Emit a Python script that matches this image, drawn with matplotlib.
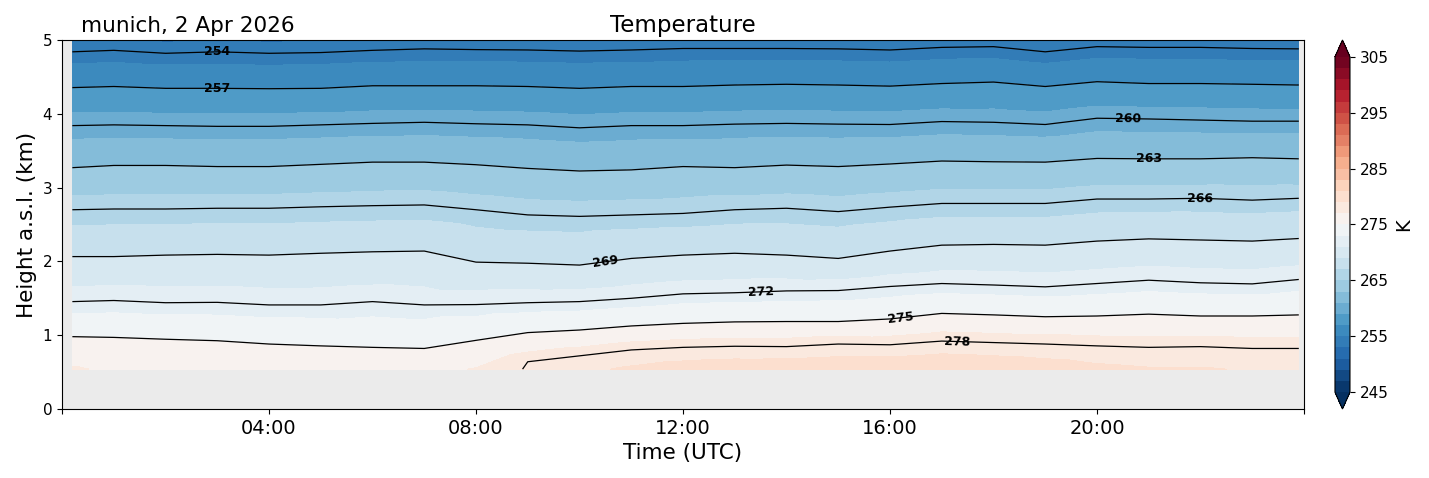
import numpy as np
import matplotlib
matplotlib.use("Agg")
from matplotlib import pyplot as plt
import matplotlib.tri as mtri

# sample times (hours UTC) at which the isotherm heights were read
hours = [0.2, 1, 2, 3, 4, 5, 6, 7, 8, 9, 10, 11, 12, 13, 14, 15, 16,
         17, 18, 19, 20, 21, 22, 23, 23.9]

# heights (km) of each isotherm, nan where it is below the lowest range gate
h278 = [np.nan] * 9 + [0.64, 0.72, 0.80, 0.835, 0.85, 0.845, 0.88, 0.87,
                       0.92, 0.90, 0.88, 0.855, 0.835, 0.845, 0.82, 0.82]
h275 = [0.98, 0.97, 0.945, 0.925, 0.88, 0.855, 0.835, 0.82, 0.93, 1.035,
        1.07, 1.125, 1.16, 1.18, 1.185, 1.185, 1.22, 1.295, 1.275, 1.25,
        1.26, 1.285, 1.26, 1.26, 1.275]
h272 = [1.455, 1.47, 1.44, 1.445, 1.41, 1.41, 1.455, 1.41, 1.415, 1.44,
        1.455, 1.50, 1.56, 1.575, 1.60, 1.605, 1.66, 1.70, 1.68, 1.655,
        1.70, 1.745, 1.71, 1.695, 1.755]
h269 = [2.065, 2.065, 2.085, 2.095, 2.085, 2.11, 2.13, 2.14, 1.99, 1.975,
        1.95, 2.04, 2.085, 2.11, 2.085, 2.04, 2.14, 2.22, 2.23, 2.22,
        2.275, 2.305, 2.29, 2.275, 2.31]
h266 = [2.70, 2.71, 2.71, 2.72, 2.72, 2.74, 2.755, 2.765, 2.70, 2.63,
        2.61, 2.63, 2.65, 2.70, 2.72, 2.675, 2.735, 2.785, 2.785, 2.785,
        2.845, 2.845, 2.855, 2.83, 2.855]
h263 = [3.27, 3.30, 3.30, 3.285, 3.285, 3.315, 3.345, 3.345, 3.31, 3.26,
        3.225, 3.24, 3.285, 3.27, 3.305, 3.285, 3.32, 3.36, 3.35, 3.345,
        3.395, 3.39, 3.39, 3.405, 3.39]
h260 = [3.84, 3.85, 3.84, 3.83, 3.83, 3.85, 3.87, 3.885, 3.865, 3.85,
        3.81, 3.84, 3.84, 3.86, 3.87, 3.86, 3.855, 3.895, 3.885, 3.855,
        3.94, 3.93, 3.915, 3.90, 3.90]
h257 = [4.355, 4.37, 4.345, 4.345, 4.34, 4.345, 4.38, 4.38, 4.38, 4.37,
        4.345, 4.37, 4.37, 4.39, 4.40, 4.39, 4.375, 4.41, 4.43, 4.37,
        4.435, 4.41, 4.41, 4.40, 4.39]
h254 = [4.84, 4.86, 4.82, 4.84, 4.82, 4.83, 4.86, 4.88, 4.87, 4.865,
        4.85, 4.865, 4.885, 4.885, 4.885, 4.88, 4.865, 4.90, 4.91, 4.84,
        4.91, 4.90, 4.90, 4.885, 4.88]

iso_levels = [278, 275, 272, 269, 266, 263, 260, 257, 254]
iso_heights = [h278, h275, h272, h269, h266, h263, h260, h257, h254]

# temperature (K) at the lowest gate and at the top of the plot
gate_bottom = 0.54
gate_top = 5.0
t_bottom = [277.2, 276.7, 276.6, 276.5, 276.4, 276.4, 276.4, 276.5, 277.1,
            278.1, 278.7, 279.2, 279.6, 279.8, 279.9, 280.0, 280.1, 280.2,
            280.0, 279.7, 279.3, 279.1, 279.1, 278.9, 278.9]
t_top = [252.9, 253.0, 252.8, 252.9, 252.8, 252.9, 253.0, 253.1, 253.0,
         253.0, 252.9, 253.0, 253.1, 253.1, 253.1, 253.1, 253.0, 253.2,
         253.3, 252.9, 253.3, 253.2, 253.2, 253.1, 253.1]

site = "munich, 2 Apr 2026"


def main():
    x, y, z = [], [], []
    for j, t in enumerate(hours):
        x.append(t)
        y.append(gate_bottom)
        z.append(t_bottom[j])
        for level, heights in zip(iso_levels, iso_heights):
            if not np.isnan(heights[j]):
                x.append(t)
                y.append(heights[j])
                z.append(level)
        x.append(t)
        y.append(gate_top)
        z.append(t_top[j])
    x = np.array(x)
    y = np.array(y)
    z = np.array(z, dtype=float)

    # stretch time axis so triangles only join neighbouring profiles
    tri = mtri.Triangulation(x * 20, y)
    triang = mtri.Triangulation(x, y, tri.triangles)

    fig = plt.figure(figsize=(14.29, 4.78), dpi=100)
    ax = fig.add_axes([0.0434, 0.1444, 0.8691, 0.7719])
    cax = fig.add_axes([0.9342, 0.1444, 0.0105, 0.7719])
    ax.set_facecolor("#ebebeb")

    cf = ax.tricontourf(triang, z, levels=np.arange(245, 306, 2),
                        cmap="RdBu_r", extend="both")
    cs = ax.tricontour(triang, z, levels=np.arange(245, 306, 3),
                       colors="black", linewidths=0.9)
    label_pos = [(3.0, 4.84), (3.0, 4.35), (20.6, 3.94), (21.0, 3.39),
                 (22.0, 2.85), (10.5, 2.0), (13.5, 1.6), (16.2, 1.24),
                 (17.3, 0.92)]
    labels = ax.clabel(cs, manual=label_pos, inline=False, fontsize=9,
                       fmt="%d")
    for lab in labels:
        lab.set_fontweight("bold")

    ax.set_xlim(0, 24)
    ax.set_ylim(0, 5)
    ax.set_xticks([0, 4, 8, 12, 16, 20, 24])
    ax.set_xticklabels(["", "04:00", "08:00", "12:00", "16:00", "20:00", ""])
    ax.set_yticks([0, 1, 2, 3, 4, 5])
    ax.tick_params(axis="x", labelsize=14)
    ax.tick_params(axis="y", labelsize=11)
    ax.set_xlabel("Time (UTC)", fontsize=15.5)
    ax.set_ylabel("Height a.s.l. (km)", fontsize=15.5)
    ax.set_title("Temperature", fontsize=16.5)
    ax.set_title(site, loc="left", fontsize=15.5, x=0.015)

    cbar = fig.colorbar(cf, cax=cax, ticks=np.arange(245, 306, 10))
    cbar.ax.tick_params(labelsize=11)
    cbar.set_label("K", fontsize=14)

    fig.savefig("out.png", dpi=100)


if __name__ == '__main__':
    main()
